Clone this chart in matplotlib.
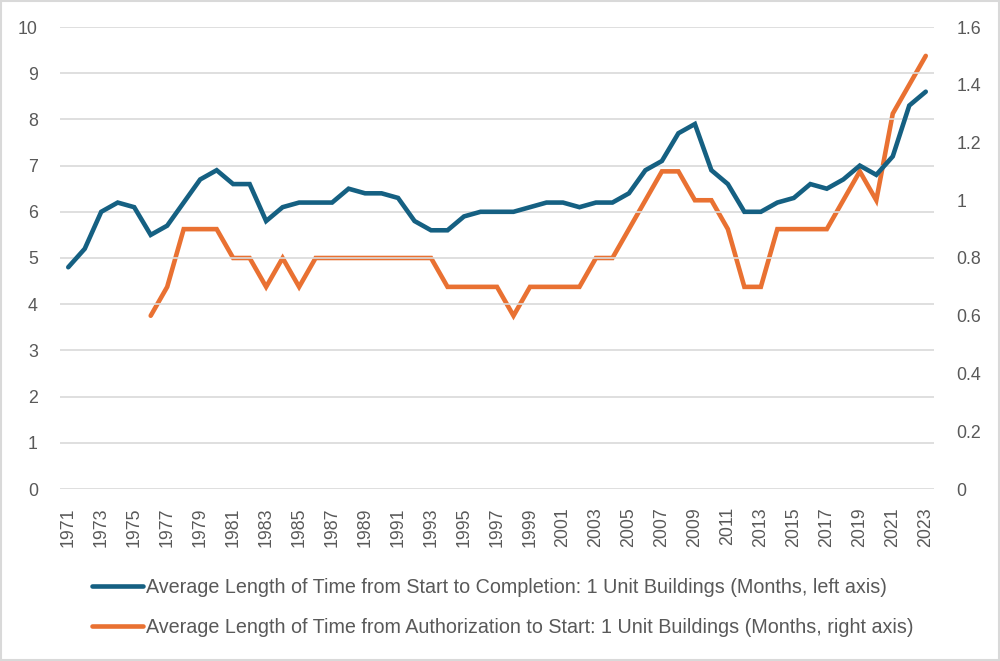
import matplotlib.pyplot as plt
from matplotlib.patches import Rectangle
import numpy as np

years = list(range(1971, 2024))

# months, start to completion (left axis), 1971-2023
start_to_completion = [
    4.8, 5.2, 6.0, 6.2, 6.1, 5.5, 5.7, 6.2, 6.7, 6.9,
    6.6, 6.6, 5.8, 6.1, 6.2, 6.2, 6.2, 6.5, 6.4, 6.4,
    6.3, 5.8, 5.6, 5.6, 5.9, 6.0, 6.0, 6.0, 6.1, 6.2,
    6.2, 6.1, 6.2, 6.2, 6.4, 6.9, 7.1, 7.7, 7.9, 6.9,
    6.6, 6.0, 6.0, 6.2, 6.3, 6.6, 6.5, 6.7, 7.0, 6.8,
    7.2, 8.3, 8.6,
]

# months, authorization to start (right axis), 1976-2023
auth_years = list(range(1976, 2024))
authorization_to_start = [
    0.6, 0.7, 0.9, 0.9, 0.9, 0.8, 0.8, 0.7, 0.8, 0.7,
    0.8, 0.8, 0.8, 0.8, 0.8, 0.8, 0.8, 0.8, 0.7, 0.7,
    0.7, 0.7, 0.6, 0.7, 0.7, 0.7, 0.7, 0.8, 0.8, 0.9,
    1.0, 1.1, 1.1, 1.0, 1.0, 0.9, 0.7, 0.7, 0.9, 0.9,
    0.9, 0.9, 1.0, 1.1, 1.0, 1.3, 1.4, 1.5,
]

label_blue = "Average Length of Time from Start to Completion: 1 Unit Buildings (Months, left axis)"
label_orange = "Average Length of Time from Authorization to Start: 1 Unit Buildings (Months, right axis)"

BLUE = "#156082"
ORANGE = "#E97132"
GRID = "#d9d9d9"
TEXT = "#595959"

plt.rcParams["font.family"] = ["Liberation Sans", "DejaVu Sans"]

fig = plt.figure(figsize=(10, 6.61), dpi=100)
ax = fig.add_axes([0.060, 1 - 489 / 661, 0.874, (489 - 27) / 661])
ax2 = ax.twinx()

x = np.arange(len(years))
x_auth = np.array([years.index(y) for y in auth_years])

l1, = ax.plot(x, start_to_completion, color=BLUE, lw=3.3,
              solid_capstyle="round", solid_joinstyle="miter", zorder=3)
l2, = ax2.plot(x_auth, authorization_to_start, color=ORANGE, lw=3.3,
               solid_capstyle="round", solid_joinstyle="miter", zorder=3)

ax.set_xlim(-0.5, len(years) - 0.5)
ax.set_ylim(0, 10)
ax.set_yticks(range(0, 11))
ax2.set_ylim(0, 1.6)
r_ticks = [0, 0.2, 0.4, 0.6, 0.8, 1.0, 1.2, 1.4, 1.6]
ax2.set_yticks(r_ticks)
ax2.set_yticklabels([f"{t:g}" for t in r_ticks])

ax.set_xticks(x[::2])
ax.set_xticklabels([str(y) for y in years[::2]], rotation=90)

ax.grid(axis="y", color=GRID, lw=1.2)
ax.set_axisbelow(True)
for a in (ax, ax2):
    for s in a.spines.values():
        s.set_visible(False)
ax.tick_params(axis="y", length=0, pad=16, labelsize=12.8, labelcolor=TEXT)
ax.tick_params(axis="x", length=0, pad=13, labelsize=12.8, labelcolor=TEXT)
ax2.tick_params(axis="y", length=0, pad=16, labelsize=12.8, labelcolor=TEXT)
ax.set_zorder(ax2.get_zorder() + 1)
ax.patch.set_visible(False)

fig.legend([l1, l2], [label_blue, label_orange], loc="upper left",
           bbox_to_anchor=(0.092, 1 - 578 / 661), frameon=False,
           labelcolor=TEXT, handlelength=2.6, handletextpad=0.12,
           labelspacing=1.05, borderpad=0, borderaxespad=0,
           prop={"size": 14.2})

fig.patches.append(Rectangle((0.001, 0.0015), 0.998, 0.997, transform=fig.transFigure,
                             fill=False, edgecolor=GRID, lw=1.5))

fig.savefig("out.png", dpi=100)
